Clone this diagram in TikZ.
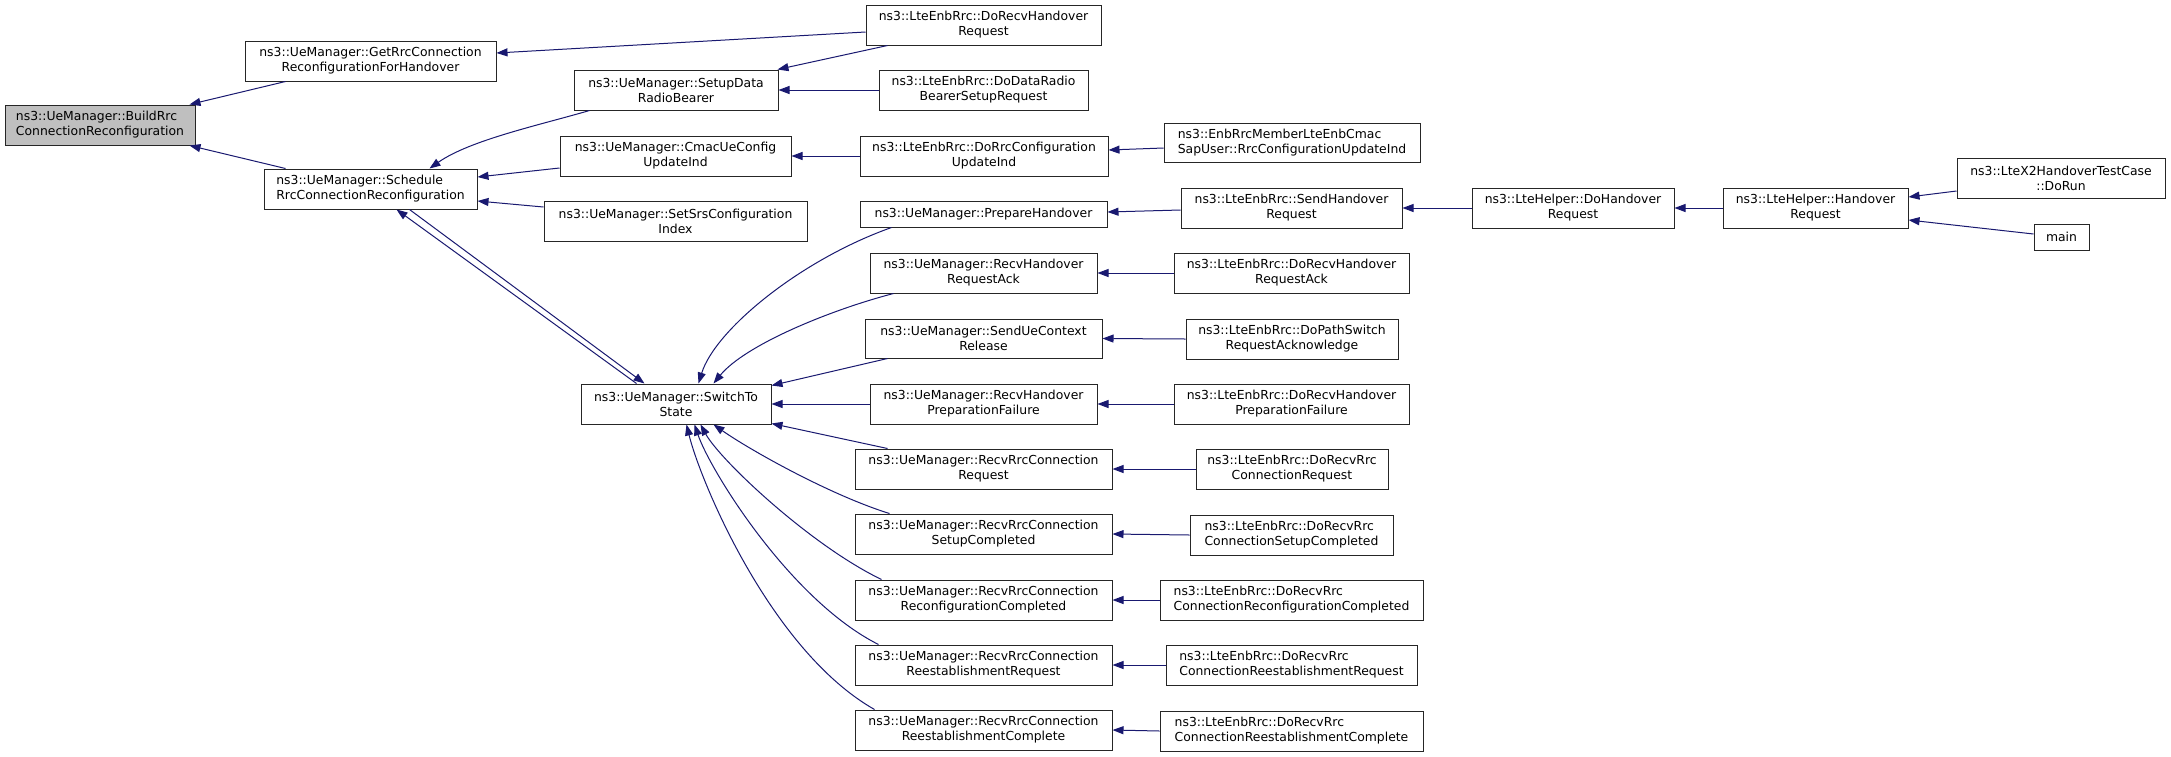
\documentclass[tikz,border=0pt]{standalone}
\usepackage{fontspec}
\setmainfont{DejaVu Sans}
\usetikzlibrary{arrows.meta,calc}
\definecolor{edgecol}{HTML}{191970}
\definecolor{rootfill}{HTML}{BFBFBF}
\tikzset{
  box/.style={draw=black!85, line width=1pt, fill=white, inner sep=0pt, align=center,
    font=\fontsize{12.4pt}{15pt}\selectfont},
  lbox/.style={box, align=left},
  edge/.style={draw=edgecol, line width=1pt, -{Triangle[length=11pt,width=8pt]}, fill=none},
}
\newcommand{\bx}[6]{\node[#1, minimum width=#4pt, minimum height=#5pt] (#2) at #3 {#6};}
\begin{document}
\begin{tikzpicture}[x=1pt,y=-1pt]
\useasboundingbox[fill=white] (0,0) rectangle (2171,756);
% nodes
\bx{lbox,fill=rootfill}{build}{(100,125)}{190}{40}{ns3::UeManager::BuildRrc\\ConnectionReconfiguration}
\bx{box}{getrrc}{(370.5,61)}{251}{40}{ns3::UeManager::GetRrcConnection\\ReconfigurationForHandover}
\bx{lbox}{sched}{(370.5,189)}{213}{40}{ns3::UeManager::Schedule\\RrcConnectionReconfiguration}
\bx{box}{dorecvho}{(983.5,25)}{235}{40}{ns3::LteEnbRrc::DoRecvHandover\\Request}
\bx{box}{setupdrb}{(676,90)}{204}{40}{ns3::UeManager::SetupData\\RadioBearer}
\bx{box}{dodrb}{(983.5,90)}{209}{40}{ns3::LteEnbRrc::DoDataRadio\\BearerSetupRequest}
\bx{box}{cmac}{(675.5,156)}{231}{40}{ns3::UeManager::CmacUeConfig\\UpdateInd}
\bx{box}{dorrccfg}{(984,156)}{248}{40}{ns3::LteEnbRrc::DoRrcConfiguration\\UpdateInd}
\bx{lbox}{enbmember}{(1292,142.5)}{256}{39}{ns3::EnbRrcMemberLteEnbCmac\\SapUser::RrcConfigurationUpdateInd}
\bx{box}{setsrs}{(675.5,221)}{263}{40}{ns3::UeManager::SetSrsConfiguration\\Index}
\bx{box}{prepho}{(983.5,214)}{247}{26}{ns3::UeManager::PrepareHandover}
\bx{box}{sendho}{(1291.5,208)}{221}{40}{ns3::LteEnbRrc::SendHandover\\Request}
\bx{box}{dohoreq}{(1573,208)}{202}{40}{ns3::LteHelper::DoHandover\\Request}
\bx{box}{horeq}{(1815.5,208)}{185}{40}{ns3::LteHelper::Handover\\Request}
\bx{box}{x2run}{(2061,178)}{208}{40}{ns3::LteX2HandoverTestCase\\::DoRun}
\bx{box}{main}{(2061.5,237)}{55}{26}{main}
\bx{box}{recvhoack}{(983.5,273)}{227}{40}{ns3::UeManager::RecvHandover\\RequestAck}
\bx{box}{dorecvhoack}{(1291.5,273)}{235}{40}{ns3::LteEnbRrc::DoRecvHandover\\RequestAck}
\bx{box}{sendctx}{(983.5,338.5)}{237}{39}{ns3::UeManager::SendUeContext\\Release}
\bx{box}{dopathsw}{(1292,339)}{212}{40}{ns3::LteEnbRrc::DoPathSwitch\\RequestAcknowledge}
\bx{box}{switch}{(676,404)}{190}{40}{ns3::UeManager::SwitchTo\\State}
\bx{box}{recvhofail}{(983.5,404)}{227}{40}{ns3::UeManager::RecvHandover\\PreparationFailure}
\bx{box}{dorecvhofail}{(1291.5,404)}{235}{40}{ns3::LteEnbRrc::DoRecvHandover\\PreparationFailure}
\bx{box}{recvconnreq}{(983.5,469)}{257}{40}{ns3::UeManager::RecvRrcConnection\\Request}
\bx{box}{doconnreq}{(1292,469)}{192}{40}{ns3::LteEnbRrc::DoRecvRrc\\ConnectionRequest}
\bx{box}{recvsetup}{(983.5,534)}{257}{40}{ns3::UeManager::RecvRrcConnection\\SetupCompleted}
\bx{lbox}{dosetup}{(1291.5,535)}{203}{40}{ns3::LteEnbRrc::DoRecvRrc\\ConnectionSetupCompleted}
\bx{box}{recvreconf}{(983.5,600)}{257}{40}{ns3::UeManager::RecvRrcConnection\\ReconfigurationCompleted}
\bx{lbox}{doreconf}{(1291.5,600)}{263}{40}{ns3::LteEnbRrc::DoRecvRrc\\ConnectionReconfigurationCompleted}
\bx{box}{recvreestreq}{(983.5,665)}{257}{40}{ns3::UeManager::RecvRrcConnection\\ReestablishmentRequest}
\bx{lbox}{doreestreq}{(1291.5,665)}{251}{40}{ns3::LteEnbRrc::DoRecvRrc\\ConnectionReestablishmentRequest}
\bx{box}{recvreestcomp}{(983.5,730)}{257}{40}{ns3::UeManager::RecvRrcConnection\\ReestablishmentComplete}
\bx{lbox}{doreestcomp}{(1291.5,731)}{263}{40}{ns3::LteEnbRrc::DoRecvRrc\\ConnectionReestablishmentComplete}
% edges
\draw[edge] ($(getrrc.south west)+(41,0)$) -- ($(build.north east)+(-6,0)$);
\draw[edge] ($(sched.north west)+(22,0)$) -- ($(build.south east)+(-6,0)$);
\draw[edge] ($(dorecvho.west)+(0,7)$) -- ($(getrrc.east)+(0,-8)$);
\draw[edge] ($(dorecvho.south west)+(22,0)$) -- ($(setupdrb.north east)+(-1,0)$);
\draw[edge] (dodrb.west) -- (setupdrb.east);
\draw[edge] ($(setupdrb.south west)+(16,0)$) .. controls (540,125) and (470,140) .. ($(sched.north east)+(-48,0)$);
\draw[edge] ($(cmac.west)+(0,12)$) -- ($(sched.east)+(0,-12)$);
\draw[edge] ($(setsrs.west)+(0,-14)$) -- ($(sched.east)+(0,12)$);
\draw[edge] ($(sched.south west)+(146,0)$) -- ($(switch.north west)+(64,0)$);
\draw[edge] ($(switch.north west)+(56,0)$) -- ($(sched.south west)+(133,0)$);
\draw[edge] (dorrccfg.west) -- (cmac.east);
\draw[edge] ($(enbmember.west)+(0,5.5)$) -- ($(dorrccfg.east)+(0,-6)$);
\draw[edge] ($(sendho.west)+(0,2)$) -- ($(prepho.east)+(0,-2)$);
\draw[edge] (dohoreq.west) -- (sendho.east);
\draw[edge] (horeq.west) -- (dohoreq.east);
\draw[edge] ($(x2run.west)+(0,13)$) -- ($(horeq.east)+(0,-11)$);
\draw[edge] ($(main.west)+(0,-3)$) -- ($(horeq.east)+(0,12)$);
\draw[edge] ($(prepho.south west)+(32,0)$) .. controls (800,260) and (715,330) .. ($(switch.north west)+(118,0)$);
\draw[edge] ($(recvhoack.south west)+(24,0)$) .. controls (830,310) and (745,345) .. ($(switch.north west)+(133,0)$);
\draw[edge] ($(sendctx.south west)+(23,0)$) -- ($(switch.north east)+(0,2)$);
\draw[edge] (recvhofail.west) -- (switch.east);
\draw[edge] ($(recvconnreq.north west)+(33,0)$) -- ($(switch.south east)+(0,-1)$);
\draw[edge] ($(recvsetup.north west)+(35,0)$) .. controls (830,495) and (750,450) .. ($(switch.south west)+(133,0)$);
\draw[edge] ($(recvreconf.north west)+(27,0)$) .. controls (810,545) and (720,460) .. ($(switch.south west)+(120,0)$);
\draw[edge] ($(recvreestreq.north west)+(24,0)$) .. controls (790,600) and (710,470) .. ($(switch.south west)+(114,0)$);
\draw[edge] ($(recvreestcomp.north west)+(20,0)$) .. controls (770,650) and (700,480) .. ($(switch.south west)+(106,0)$);
\draw[edge] (dorecvhoack.west) -- (recvhoack.east);
\draw[edge] (dopathsw.west) -- (sendctx.east);
\draw[edge] (dorecvhofail.west) -- (recvhofail.east);
\draw[edge] (doconnreq.west) -- (recvconnreq.east);
\draw[edge] (dosetup.west) -- (recvsetup.east);
\draw[edge] (doreconf.west) -- (recvreconf.east);
\draw[edge] (doreestreq.west) -- (recvreestreq.east);
\draw[edge] (doreestcomp.west) -- (recvreestcomp.east);
\end{tikzpicture}
\end{document}
